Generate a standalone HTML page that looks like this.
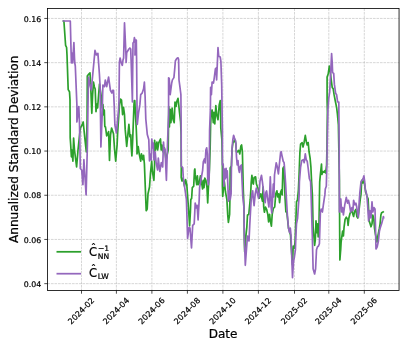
<!DOCTYPE html><html><head><meta charset="utf-8"><title>Annualized Standard Deviation</title><style>html,body{margin:0;padding:0;background:#fff}</style></head><body><svg width="408" height="349" viewBox="0 0 408 349" style="display:block;font-family:'DejaVu Sans','Liberation Sans',sans-serif">
<rect width="408" height="349" fill="#fff"/>
<style>text{stroke:#000;stroke-width:0.22px;stroke-linejoin:round}</style>
<path d="M81.5 8.5V290.5M116.4 8.5V290.5M151.9 8.5V290.5M187.4 8.5V290.5M222.9 8.5V290.5M258.4 8.5V290.5M294.5 8.5V290.5M328.8 8.5V290.5M364.3 8.5V290.5M47.5 18.45H399.05M47.5 62.65H399.05M47.5 106.85H399.05M47.5 151.05H399.05M47.5 195.25H399.05M47.5 239.45H399.05M47.5 283.65H399.05" stroke="#b0b0b0" stroke-width="0.6" stroke-dasharray="2.6 0.9" fill="none" opacity="0.85"/>
<clipPath id="c"><rect x="47.5" y="8.5" width="351.55" height="282.0"/></clipPath>
<path d="M62.6 21.0L63.9 21.0L65.6 45.3L66.6 47.5L67.0 55.0L68.2 89.6L69.5 91.8L70.0 100.0L70.2 138.0L70.7 145.0L71.4 156.8L72.0 150.0L72.9 161.2L73.6 138.0L74.5 150.0L76.6 167.0L78.0 150.0L80.3 128.0L81.7 125.7L83.2 122.0L84.7 136.8L86.3 152.0L87.1 119.0L87.3 76.0L88.8 74.0L90.0 72.8L90.9 90.9L91.8 113.3L92.6 95.0L93.5 82.2L94.4 87.0L95.2 89.0L96.0 111.6L96.8 104.0L97.6 108.0L98.6 95.0L99.5 84.0L100.3 90.0L101.2 96.0L102.2 108.0L103.0 104.7L103.6 115.0L104.3 110.0L104.8 126.5L105.5 127.0L106.7 136.0L108.6 131.6L109.5 160.4L110.5 135.0L111.6 128.0L113.5 133.8L114.6 150.0L115.7 161.2L117.1 145.0L117.6 133.8L119.4 105.9L120.5 99.0L121.5 100.0L122.6 114.7L123.5 107.4L124.5 114.7L125.2 129.4L126.7 146.5L128.9 124.3L129.9 136.8L130.8 135.0L131.1 145.0L131.9 156.0L132.6 142.0L134.0 104.4L134.3 100.6L134.8 100.6L135.5 114.7L136.3 129.4L137.0 147.0L137.0 153.8L138.2 146.5L139.2 153.8L140.7 161.2L141.4 153.8L142.9 159.7L143.6 155.3L144.4 164.0L146.2 210.7L147.2 209.0L148.0 193.8L149.5 187.0L150.5 173.0L151.7 161.2L152.4 171.5L153.9 180.3L154.6 164.0L154.6 140.4L155.4 150.0L156.9 142.0L157.6 150.0L158.8 142.6L160.5 139.0L161.2 150.0L162.0 145.0L163.0 152.0L164.5 148.0L166.0 160.0L168.2 150.0L168.5 125.0L168.8 106.5L169.4 127.0L170.2 109.4L170.9 122.6L172.1 108.0L173.1 119.7L174.2 122.6L175.0 102.0L176.1 106.5L176.8 101.5L178.0 98.4L178.6 103.5L179.5 112.4L180.6 122.0L181.1 135.0L181.3 166.0L181.2 177.4L182.0 181.0L183.0 178.0L184.5 186.0L185.6 179.6L186.8 184.7L188.6 210.0L189.6 226.0L190.4 212.0L190.8 199.4L191.6 198.7L192.3 187.6L193.7 186.2L194.5 170.0L194.9 169.0L195.2 174.4L196.7 184.7L197.4 175.9L198.1 184.7L199.2 183.2L200.4 175.9L201.5 182.0L202.6 189.0L203.3 180.3L204.0 187.6L204.8 178.0L205.9 180.3L207.0 187.6L207.7 203.0L208.4 187.6L209.4 170.0L210.1 150.0L210.6 125.0L211.3 112.0L212.1 110.0L213.3 122.6L213.9 112.4L214.8 124.0L215.8 105.7L216.8 115.3L218.0 119.7L219.2 105.0L220.2 100.6L220.6 110.9L220.8 128.0L221.9 140.0L222.4 165.0L222.4 186.0L222.7 196.5L223.6 187.6L224.3 181.5L225.5 192.0L226.9 199.7L227.7 214.4L228.4 222.5L229.6 214.4L229.9 199.7L230.2 168.0L231.4 166.0L232.0 150.0L232.9 143.0L234.5 140.0L235.8 143.5L236.4 152.0L237.5 151.8L238.7 150.3L239.8 154.0L240.9 145.9L241.6 145.0L242.4 151.8L242.8 169.4L243.3 190.0L244.0 207.0L244.3 240.0L244.7 252.0L246.0 235.0L246.8 227.6L247.5 215.0L248.8 214.4L250.2 199.7L250.8 190.9L251.2 182.6L251.9 175.3L252.7 182.6L253.4 184.0L254.1 177.5L255.6 176.8L256.4 184.0L257.5 187.0L258.5 190.0L259.3 198.2L260.8 193.8L262.5 201.2L263.1 187.0L263.7 207.0L264.4 212.2L265.5 207.0L266.6 209.3L267.8 214.4L268.6 221.8L269.6 214.4L270.3 220.3L271.4 226.2L272.2 214.4L273.3 208.5L274.7 207.0L275.8 193.8L276.9 190.9L277.7 196.8L278.7 193.8L279.6 202.6L280.6 192.4L281.5 190.0L282.2 195.0L282.9 168.5L283.7 167.0L284.4 180.0L285.1 198.8L285.9 212.0L286.8 212.0L288.5 228.0L290.5 235.0L291.3 248.0L292.5 265.0L293.2 246.0L294.4 248.2L295.2 240.0L296.5 201.8L297.4 200.3L298.4 190.0L299.1 174.4L299.9 152.4L300.6 144.0L302.1 142.6L303.0 147.0L304.0 143.0L305.3 135.3L306.5 142.6L307.2 145.0L308.2 142.6L309.1 152.0L310.1 158.2L310.9 167.0L311.6 181.8L312.4 195.0L313.1 226.8L313.8 235.0L314.6 245.3L315.3 240.0L316.0 220.9L316.8 232.6L317.5 223.8L318.2 237.0L318.9 230.0L319.4 200.0L319.7 181.8L320.4 174.4L321.5 164.0L321.9 174.4L322.9 171.5L324.1 172.2L324.9 170.7L325.6 173.0L326.6 165.0L327.0 145.0L327.4 112.0L327.1 100.0L327.1 77.0L328.2 74.0L329.3 66.0L330.0 69.7L331.0 78.0L332.2 87.4L333.2 88.8L334.1 94.7L335.1 100.0L336.6 107.4L337.4 114.0L338.4 125.0L339.4 180.0L339.7 235.0L339.9 260.0L340.5 252.0L340.7 249.7L341.1 242.4L341.9 236.0L342.6 231.2L343.4 236.0L344.1 226.8L345.1 219.4L346.3 217.2L347.5 219.4L348.1 225.3L348.9 218.0L350.0 213.5L350.7 212.0L352.0 211.5L353.6 216.5L354.4 212.0L355.8 209.5L356.9 216.5L357.8 218.0L358.8 212.0L360.3 198.8L361.0 194.4L361.7 180.3L362.6 183.0L363.5 181.0L364.5 184.0L365.5 191.0L366.9 196.0L368.1 198.8L369.1 220.9L370.1 223.8L371.0 226.8L372.0 223.8L372.8 215.0L373.9 219.4L374.5 228.2L375.4 234.0L376.4 238.5L377.0 242.0L377.9 236.0L379.4 228.2L380.1 223.8L380.9 215.0L381.6 212.8L383.1 212.0L383.8 211.3" stroke="#2ca02c" stroke-width="1.7" fill="none" stroke-linejoin="round" stroke-linecap="butt" clip-path="url(#c)"/>
<path d="M62.6 21.0L70.3 21.0L71.1 52.6L71.4 63.0L72.0 53.0L72.7 63.0L73.3 52.0L73.9 42.6L74.5 58.0L74.8 63.0L75.3 66.0L76.9 105.0L76.9 122.0L78.8 106.6L79.5 123.5L80.3 168.5L81.7 170.0L82.9 184.7L83.9 159.7L86.1 195.0L87.4 145.0L88.0 105.0L88.5 77.0L89.8 84.0L91.3 90.0L95.0 50.4L96.4 54.9L97.9 53.4L99.4 74.0L100.1 86.0L100.9 147.0L102.2 114.7L102.6 95.0L102.9 85.0L104.5 86.6L105.3 80.0L106.7 86.6L108.6 77.0L110.4 90.3L111.9 93.0L112.6 90.3L113.5 90.3L114.2 105.0L114.9 125.0L116.4 133.0L118.6 108.8L119.0 100.0L119.4 62.4L120.1 58.0L121.1 62.4L122.3 65.3L123.0 60.0L123.6 58.0L124.5 22.9L126.0 55.6L126.1 62.4L126.7 52.6L128.9 49.0L129.9 48.0L130.7 49.0L131.1 60.0L132.4 102.0L132.8 60.0L133.0 43.0L133.8 42.0L134.4 37.6L135.2 41.0L135.0 55.0L135.5 40.0L136.3 40.0L136.6 60.0L137.0 105.0L137.0 119.0L137.3 124.3L138.5 113.2L139.9 104.4L140.7 94.7L142.1 93.2L143.6 88.8L144.4 82.2L145.1 96.2L145.8 119.0L147.3 134.6L148.8 139.7L149.5 161.0L150.5 154.0L151.2 160.0L151.8 139.0L152.6 148.0L153.3 143.0L154.0 160.0L155.2 152.0L156.1 162.6L157.6 170.0L158.3 158.0L159.8 171.5L161.3 162.6L162.7 167.0L163.5 142.0L164.2 151.0L165.0 149.4L166.4 180.3L167.6 141.0L168.6 114.7L168.6 77.8L169.2 78.4L170.2 94.7L171.7 83.0L172.4 79.9L173.9 77.6L174.6 70.3L175.4 60.7L176.8 58.5L178.0 57.8L178.6 59.3L179.0 80.0L179.8 85.9L180.9 94.7L181.2 130.0L181.2 166.0L182.7 167.6L183.4 178.8L184.9 189.0L186.4 199.4L186.9 215.0L187.6 238.5L189.0 227.5L190.0 228.0L191.5 248.0L192.7 225.3L194.2 223.8L194.5 218.0L195.2 203.0L196.2 208.0L197.1 205.3L198.1 220.0L199.2 199.4L199.6 187.6L201.1 178.8L202.6 170.6L203.3 161.8L204.5 158.8L205.2 163.0L205.9 150.0L206.7 147.8L207.4 154.4L207.7 178.8L208.4 184.7L209.2 175.9L209.6 130.0L210.4 109.4L210.6 87.4L211.4 94.7L212.1 82.0L213.5 83.0L214.3 77.6L215.4 68.8L216.2 68.0L216.6 80.0L217.3 64.4L218.0 47.5L218.7 56.3L220.2 57.0L220.9 61.5L221.7 85.0L222.4 130.0L222.4 164.7L223.2 164.0L223.9 186.2L224.6 169.0L225.3 178.8L226.1 168.4L226.5 177.4L227.2 170.8L227.9 185.8L228.4 201.2L229.6 190.9L230.2 199.7L231.1 193.8L231.4 169.4L232.1 147.4L232.8 140.0L233.6 135.4L234.5 138.0L235.8 141.3L236.5 157.0L237.2 165.0L238.0 160.6L238.7 169.4L239.4 172.4L240.2 166.5L241.4 165.0L241.9 178.0L242.8 196.8L243.9 207.0L244.3 235.0L245.3 265.3L246.8 244.7L247.5 236.0L248.3 237.0L249.0 241.0L249.7 226.2L250.5 211.5L251.2 199.7L251.9 193.8L252.7 190.9L253.4 199.7L254.1 205.6L255.2 193.8L256.4 188.0L257.5 193.8L258.6 198.2L259.3 190.9L260.0 181.2L261.5 175.3L262.5 182.6L263.4 190.0L264.4 198.2L265.2 202.6L265.9 192.4L266.6 190.9L267.8 199.7L268.9 207.0L269.6 195.0L270.3 176.8L270.8 190.0L271.1 207.0L271.8 213.0L272.5 199.7L273.3 184.0L273.9 197.0L274.5 175.0L276.2 162.8L277.2 166.5L278.4 173.8L279.6 162.0L280.6 152.5L281.2 151.6L282.2 156.8L283.2 161.2L284.1 162.6L284.7 170.0L285.6 183.2L286.2 195.0L287.4 215.0L288.5 228.2L289.6 232.6L290.3 228.2L291.0 235.0L291.5 250.0L292.5 277.6L293.5 261.5L294.4 257.0L295.4 250.0L295.8 238.0L296.5 223.8L297.6 218.0L298.4 206.2L299.1 195.9L299.4 181.8L300.6 167.0L301.8 160.4L303.2 159.7L304.2 162.6L305.3 153.8L306.2 159.7L307.2 161.2L308.2 168.5L309.4 178.8L310.6 181.8L311.1 195.0L311.6 212.0L312.3 235.0L313.1 268.8L314.6 274.0L315.6 268.8L316.5 249.7L317.5 246.8L318.5 246.0L319.4 243.8L319.6 237.0L320.4 212.0L321.2 209.0L322.4 212.0L323.4 204.7L324.9 194.4L325.3 189.0L326.3 186.2L326.8 167.0L327.2 145.0L327.9 110.0L328.8 98.0L329.7 91.8L330.7 72.6L331.6 53.5L332.2 62.4L332.6 72.6L333.7 73.4L334.4 84.4L335.6 93.2L336.6 94.7L337.6 102.0L338.8 102.0L338.9 114.7L339.2 145.0L339.3 190.0L339.4 212.0L340.1 200.3L340.8 199.0L341.6 212.0L342.6 207.6L343.4 215.0L344.8 204.7L346.3 197.4L347.5 203.2L348.5 200.3L349.5 204.7L350.7 212.0L351.9 207.6L352.9 210.6L353.6 200.3L354.8 204.7L355.9 203.2L356.6 206.2L357.8 215.0L358.4 217.2L359.2 201.8L359.8 193.0L361.0 181.8L362.2 180.3L363.2 178.0L363.9 175.9L364.7 181.8L365.4 190.0L366.1 192.0L366.9 195.9L367.6 204.7L368.6 220.9L369.8 210.6L371.0 218.0L372.0 201.8L372.8 212.0L373.9 207.6L375.0 209.0L375.4 223.8L376.0 249.0L377.2 246.8L378.4 241.0L379.4 231.2L380.1 228.2L381.6 223.8L382.8 219.4L383.4 216.5L383.8 218.7" stroke="#9467bd" stroke-width="1.7" fill="none" stroke-linejoin="round" stroke-linecap="butt" clip-path="url(#c)"/>
<rect x="47.5" y="8.5" width="351.55" height="282.0" fill="none" stroke="#000" stroke-width="0.82"/>
<path d="M81.5 290.5v3.2M116.4 290.5v3.2M151.9 290.5v3.2M187.4 290.5v3.2M222.9 290.5v3.2M258.4 290.5v3.2M294.5 290.5v3.2M328.8 290.5v3.2M364.3 290.5v3.2M47.5 18.45h-3.2M47.5 62.65h-3.2M47.5 106.85h-3.2M47.5 151.05h-3.2M47.5 195.25h-3.2M47.5 239.45h-3.2M47.5 283.65h-3.2" stroke="#000" stroke-width="0.7" fill="none"/>
<text x="41.2" y="21.65" font-size="7.85" text-anchor="end">0.16</text>
<text x="41.2" y="65.85" font-size="7.85" text-anchor="end">0.14</text>
<text x="41.2" y="110.05" font-size="7.85" text-anchor="end">0.12</text>
<text x="41.2" y="154.25" font-size="7.85" text-anchor="end">0.10</text>
<text x="41.2" y="198.45" font-size="7.85" text-anchor="end">0.08</text>
<text x="41.2" y="242.65" font-size="7.85" text-anchor="end">0.06</text>
<text x="41.2" y="286.85" font-size="7.85" text-anchor="end">0.04</text>
<text transform="translate(81.05 310.75) rotate(-45)" font-size="8.0" text-anchor="middle" y="2.9">2024-02</text>
<text transform="translate(115.95 310.75) rotate(-45)" font-size="8.0" text-anchor="middle" y="2.9">2024-04</text>
<text transform="translate(151.45 310.75) rotate(-45)" font-size="8.0" text-anchor="middle" y="2.9">2024-06</text>
<text transform="translate(186.95 310.75) rotate(-45)" font-size="8.0" text-anchor="middle" y="2.9">2024-08</text>
<text transform="translate(222.45 310.75) rotate(-45)" font-size="8.0" text-anchor="middle" y="2.9">2024-10</text>
<text transform="translate(257.95 310.75) rotate(-45)" font-size="8.0" text-anchor="middle" y="2.9">2024-12</text>
<text transform="translate(294.05 310.75) rotate(-45)" font-size="8.0" text-anchor="middle" y="2.9">2025-02</text>
<text transform="translate(328.35 310.75) rotate(-45)" font-size="8.0" text-anchor="middle" y="2.9">2025-04</text>
<text transform="translate(363.85 310.75) rotate(-45)" font-size="8.0" text-anchor="middle" y="2.9">2025-06</text>
<text x="223.1" y="337.6" font-size="12" text-anchor="middle">Date</text>
<text transform="translate(18.3 149.3) rotate(-90)" font-size="12.1" text-anchor="middle">Annualized Standard Deviation</text>
<path d="M56.5 251.8h24.5" stroke="#2ca02c" stroke-width="1.75"/>
<path d="M56.5 273.7h24.5" stroke="#9467bd" stroke-width="1.75"/>
<text font-size="11.5" x="89.0" y="255.5">C</text><text font-size="11" x="93.4" y="252.0" text-anchor="middle">ˆ</text>
<text font-size="7.6" x="97.8" y="258.6">NN</text><text font-size="7.6" x="98.0" y="251.1">−1</text>
<text font-size="11.5" x="89.0" y="276.7">C</text><text font-size="11" x="93.4" y="273.2" text-anchor="middle">ˆ</text>
<text font-size="7.6" x="97.8" y="279.3">LW</text>
</svg></body></html>
